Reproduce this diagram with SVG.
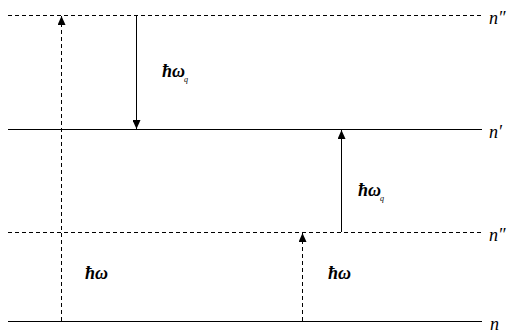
<svg xmlns="http://www.w3.org/2000/svg" width="509" height="333" viewBox="0 0 509 333">
<style>
.lvl{stroke:#000;stroke-width:1;fill:none}
.dash{stroke-dasharray:4,3}
.t{font-family:"Liberation Serif","DejaVu Serif",serif;font-style:italic;font-size:18px;fill:#000}
.b{font-weight:bold}
.s{font-family:"Liberation Serif","DejaVu Serif",serif;font-style:italic;font-size:8px;fill:#000}
</style>
<defs>
<marker id="ad" markerWidth="8" markerHeight="10" refX="4" refY="9" orient="0" markerUnits="userSpaceOnUse" viewBox="0 0 8 10">
<path d="M0,0 L8,0 L4,9 Z" fill="#000"/>
</marker>
<marker id="au" markerWidth="8" markerHeight="10" refX="4" refY="1" orient="0" markerUnits="userSpaceOnUse" viewBox="0 0 8 10">
<path d="M4,1 L8,10 L0,10 Z" fill="#000"/>
</marker>
</defs>
<g id="level-n2-top">
<line class="lvl dash" x1="8" y1="15.5" x2="482" y2="15.5"/>
<text class="t" x="489" y="24">n″</text>
</g>
<g id="level-n1">
<line class="lvl" x1="8" y1="129.5" x2="482" y2="129.5"/>
<text class="t" x="489" y="138">n′</text>
</g>
<g id="level-n2-bottom">
<line class="lvl dash" x1="8" y1="232.5" x2="482" y2="232.5"/>
<text class="t" x="489" y="241">n″</text>
</g>
<g id="level-n">
<line class="lvl" x1="8" y1="321.5" x2="482" y2="321.5"/>
<text class="t" x="490" y="330">n</text>
</g>
<g id="connectors">
<line class="lvl dash" x1="61.5" y1="321" x2="61.5" y2="16" marker-end="url(#au)"/>
<line class="lvl" x1="136.5" y1="16" x2="136.5" y2="129" marker-end="url(#ad)"/>
<line class="lvl" x1="341.5" y1="232" x2="341.5" y2="130" marker-end="url(#au)"/>
<line class="lvl dash" x1="302.5" y1="321" x2="302.5" y2="233" marker-end="url(#au)"/>
</g>
<g id="label-hwq-1">
<text class="t b" x="162" y="77">ħω</text><text class="s" x="184" y="82">q</text>
</g>
<g id="label-hwq-2">
<text class="t b" x="358" y="196">ħω</text><text class="s" x="380" y="201">q</text>
</g>
<g id="label-hw-1">
<text class="t b" x="85" y="279">ħω</text>
</g>
<g id="label-hw-2">
<text class="t b" x="328" y="279">ħω</text>
</g>
</svg>
